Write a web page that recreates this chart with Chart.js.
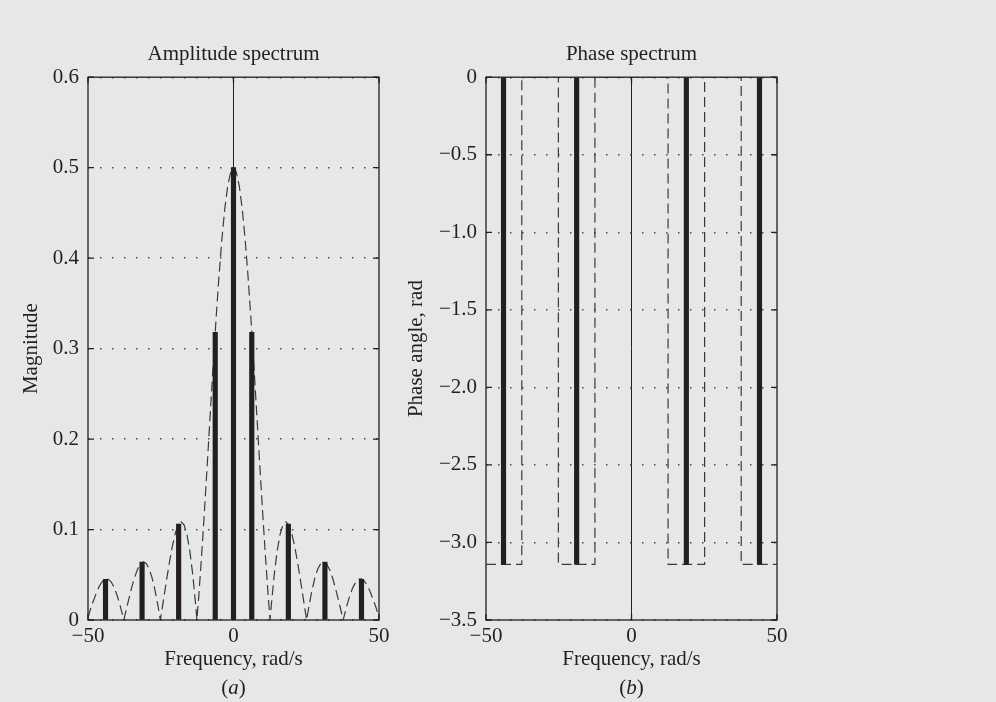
<!DOCTYPE html>
<html>
<head>
<meta charset="utf-8">
<script src="https://cdn.jsdelivr.net/npm/chart.js@4.4.0/dist/chart.umd.min.js"></script>
<style>
  html, body { margin: 0; padding: 0; background: #e6e7e9; }
  #wrap { position: relative; width: 996px; height: 702px; overflow: hidden; }
  canvas { position: absolute; top: 0; }
</style>
</head>
<body>
<div id="wrap">
  <canvas id="amplitude" width="467" height="702" style="left:0px"></canvas>
  <canvas id="phase" width="463" height="702" style="left:400px"></canvas>
</div>
<script>
// harmonic lines (rad/s)
const harmonicFreq = [-43.98, -31.42, -18.85, -6.28, 0, 6.28, 18.85, 31.42, 43.98]
const harmonicMag = [0.045, 0.064, 0.106, 0.318, 0.5, 0.318, 0.106, 0.064, 0.045]
const harmonicPhase = [-3.1416, 0, -3.1416, 0, 0, 0, -3.1416, 0, -3.1416]

// dashed envelope of the amplitude spectrum
const ampEnvFreq = [-50, -49, -48, -47, -46, -45, -44, -43, -42, -41, -40, -39, -38, -37.7, -37, -36, -35, -34, -33, -32, -31, -30,
  -29, -28, -27, -26, -25.13, -25, -24, -23, -22, -21, -20, -19, -18, -17, -16, -15, -14, -13, -12.57, -12, -11, -10,
  -9, -8, -7, -6, -5, -4, -3, -2, -1, 0, 1, 2, 3, 4, 5, 6, 7, 8, 9, 10, 11, 12, 12.57, 13, 14, 15, 16, 17, 18, 19, 20,
  21, 22, 23, 24, 25, 25.13, 26, 27, 28, 29, 30, 31, 32, 33, 34, 35, 36, 37, 37.7, 38, 39, 40, 41, 42, 43, 44, 45, 46,
  47, 48, 49, 50]
const ampEnvMag = [0.0027, 0.0136, 0.0224, 0.0310, 0.0381, 0.0430, 0.0455, 0.0451, 0.0419, 0.0358, 0.0272, 0.0164, 0.0040, 0,
  0.0094, 0.0229, 0.0357, 0.0470, 0.0559, 0.0618, 0.0642, 0.0625, 0.0567, 0.0469, 0.0333, 0.0165, 0, 0.0027, 0.0233,
  0.0442, 0.0641, 0.0818, 0.0959, 0.1052, 0.1086, 0.1053, 0.0946, 0.0762, 0.0501, 0.0166, 0, 0.0235, 0.0694, 0.1197,
  0.1729, 0.2273, 0.2811, 0.3325, 0.3796, 0.4207, 0.4544, 0.4794, 0.4948, 0.5, 0.4948, 0.4794, 0.4544, 0.4207, 0.3796,
  0.3325, 0.2811, 0.2273, 0.1729, 0.1197, 0.0694, 0.0235, 0, 0.0166, 0.0501, 0.0762, 0.0946, 0.1053, 0.1086, 0.1052,
  0.0959, 0.0818, 0.0641, 0.0442, 0.0233, 0.0027, 0, 0.0165, 0.0333, 0.0469, 0.0567, 0.0625, 0.0642, 0.0618, 0.0559,
  0.0470, 0.0357, 0.0229, 0.0094, 0, 0.0040, 0.0164, 0.0272, 0.0358, 0.0419, 0.0451, 0.0455, 0.0430, 0.0381, 0.0310,
  0.0224, 0.0136, 0.0027]

// dashed envelope of the phase spectrum
const phaseEnvFreq = [-50, -37.7, -37.7, -25.13, -25.13, -12.57, -12.57, 12.57, 12.57, 25.13, 25.13, 37.7, 37.7, 50]
const phaseEnvAngle = [-3.1416, -3.1416, 0, 0, -3.1416, -3.1416, 0, 0, -3.1416, -3.1416, 0, 0, -3.1416, -3.1416]

const freqTicks = [-50, 0, 50]
const magTicks = [0, 0.1, 0.2, 0.3, 0.4, 0.5, 0.6]
const phaseTicks = [0, -0.5, -1.0, -1.5, -2.0, -2.5, -3.0, -3.5]

const titles = ['Amplitude spectrum', 'Phase spectrum']
const yTitles = ['Magnitude', 'Phase angle, rad']
const xTitle = 'Frequency, rad/s'
const captions = ['a', 'b']

const ink = '#231f20'
const serif = '"Liberation Serif", "Times New Roman", serif'
const font21 = { family: serif, size: 21, weight: 'normal' }

const toPoints = (xs, ys) => xs.map((x, i) => ({ x: x, y: ys[i] }))

const fmtNum = (v, digits) => {
    if (v === 0) return '0'
    return (v < 0 ? '\u2212' : '') + Math.abs(v).toFixed(digits)
}

// box, inward tick marks and the (a)/(b) caption
const framePlugin = {
    id: 'frame',
    afterDatasetsDraw(chart, args, opts) {
        const { ctx, chartArea: a, scales } = chart
        ctx.save()
        ctx.strokeStyle = ink
        ctx.lineWidth = 1.3
        ctx.strokeRect(a.left, a.top, a.right - a.left, a.bottom - a.top)
        ctx.beginPath()
        for (const t of scales.y.ticks) {
            const py = scales.y.getPixelForValue(t.value)
            ctx.moveTo(a.left, py); ctx.lineTo(a.left + 6, py)
            ctx.moveTo(a.right, py); ctx.lineTo(a.right - 6, py)
        }
        for (const t of scales.x.ticks) {
            const px = scales.x.getPixelForValue(t.value)
            ctx.moveTo(px, a.bottom); ctx.lineTo(px, a.bottom - 6)
            ctx.moveTo(px, a.top); ctx.lineTo(px, a.top + 6)
        }
        ctx.stroke()

        // caption like "(a)" with the letter in italics
        const cx = (a.left + a.right) / 2
        const cy = 688
        const regular = '21px ' + serif
        const italic = 'italic 21px ' + serif
        ctx.fillStyle = ink
        ctx.textBaseline = 'middle'
        ctx.textAlign = 'left'
        ctx.font = regular
        const wOpen = ctx.measureText('(').width
        const wClose = ctx.measureText(')').width
        ctx.font = italic
        const wLetter = ctx.measureText(opts.caption).width
        let x = cx - (wOpen + wLetter + wClose) / 2
        ctx.font = regular
        ctx.fillText('(', x, cy)
        x += wOpen
        ctx.font = italic
        ctx.fillText(opts.caption, x, cy)
        x += wLetter
        ctx.font = regular
        ctx.fillText(')', x, cy)
        ctx.restore()
    }
}

const makeSpectrum = (canvasId, cfg) => {
    const ctx = document.getElementById(canvasId)
    return new Chart(ctx, {
        type: 'bar',
        data: {
            datasets: [
                {
                    type: 'bar',
                    data: toPoints(harmonicFreq, cfg.stems),
                    backgroundColor: ink,
                    borderWidth: 0,
                    barThickness: 4.5,
                    order: 0,
                },
                {
                    type: 'line',
                    data: toPoints(cfg.envX, cfg.envY),
                    borderColor: '#3a3a3a',
                    borderWidth: 1.2,
                    borderDash: [10, 5],
                    pointRadius: 0,
                    fill: false,
                    tension: 0,
                    order: 1,
                },
            ]
        },
        options: {
            responsive: false,
            animation: false,
            layout: { padding: { left: 0, right: cfg.padRight, top: 0, bottom: 0 } },
            plugins: {
                legend: { display: false },
                tooltip: { enabled: false },
                title: {
                    display: true,
                    fullSize: false,
                    text: cfg.title,
                    font: font21,
                    color: ink,
                    padding: { top: 42, bottom: 10 },
                },
                frame: { caption: cfg.caption },
            },
            scales: {
                x: {
                    type: 'linear',
                    min: -50,
                    max: 50,
                    offset: false,
                    afterBuildTicks: s => { s.ticks = freqTicks.map(v => ({ value: v })) },
                    afterFit: s => { s.height = 82 },
                    ticks: {
                        font: font21,
                        color: ink,
                        padding: 4,
                        maxRotation: 0,
                        autoSkip: false,
                        callback: v => fmtNum(v, 0),
                    },
                    grid: {
                        offset: false,
                        drawTicks: false,
                        lineWidth: 1,
                        color: c => (c.tick && c.tick.value === 0 ? ink : 'rgba(0,0,0,0)'),
                    },
                    border: { display: false },
                    title: {
                        display: true,
                        text: xTitle,
                        font: font21,
                        color: ink,
                        padding: { top: 0, bottom: 30 },
                    },
                },
                y: {
                    type: 'linear',
                    min: cfg.yMin,
                    max: cfg.yMax,
                    afterBuildTicks: s => { s.ticks = cfg.yTicks.map(v => ({ value: v })) },
                    afterFit: s => { s.width = cfg.yWidth },
                    ticks: {
                        font: font21,
                        color: ink,
                        padding: 9,
                        autoSkip: false,
                        callback: v => fmtNum(v, 1),
                    },
                    grid: {
                        drawTicks: false,
                        lineWidth: 1.4,
                        color: '#4a4a4a',
                    },
                    border: { display: false, dash: [1.5, 10.5] },
                    title: {
                        display: true,
                        text: cfg.yTitle,
                        font: font21,
                        color: ink,
                        padding: { top: cfg.yTitlePad, bottom: 0 },
                    },
                },
            },
        },
        plugins: [framePlugin],
    })
}

makeSpectrum('amplitude', {
    title: titles[0],
    yTitle: yTitles[0],
    caption: captions[0],
    stems: harmonicMag,
    envX: ampEnvFreq,
    envY: ampEnvMag,
    yMin: 0,
    yMax: 0.6,
    yTicks: magTicks,
    yWidth: 88,
    yTitlePad: 19,
    padRight: 88,
})

makeSpectrum('phase', {
    title: titles[1],
    yTitle: yTitles[1],
    caption: captions[1],
    stems: harmonicPhase,
    envX: phaseEnvFreq,
    envY: phaseEnvAngle,
    yMin: -3.5,
    yMax: 0,
    yTicks: phaseTicks,
    yWidth: 86,
    yTitlePad: 4,
    padRight: 86,
})
</script>
</body>
</html>
